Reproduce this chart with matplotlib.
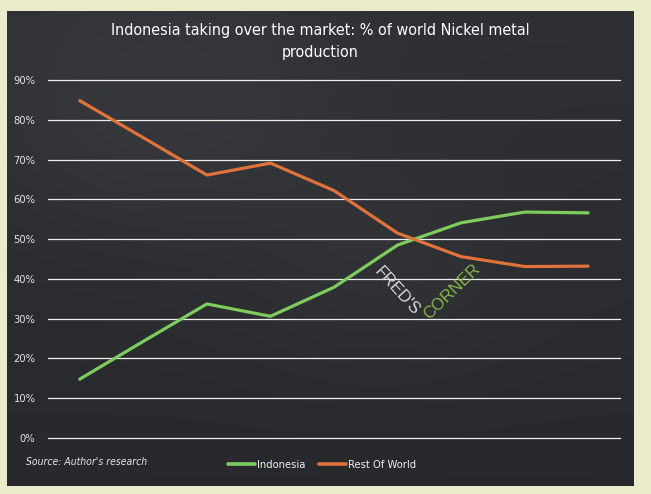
import matplotlib
matplotlib.use("Agg")
import matplotlib.pyplot as plt
import numpy as np

# ---- data ----
periods = list(range(9))
indonesia = [14.8, 24.3, 33.7, 30.6, 37.9, 48.5, 54.1, 56.8, 56.6]
rest_of_world = [84.8, 75.5, 66.1, 69.1, 62.2, 51.5, 45.6, 43.1, 43.2]
y_ticks = [0, 10, 20, 30, 40, 50, 60, 70, 80, 90]
y_tick_labels = [f"{v}%" for v in y_ticks]

W, H = 651, 494
fig = plt.figure(figsize=(W / 100, H / 100), dpi=100, facecolor="#ecebc9")

# chalkboard panel
bg = fig.add_axes([7 / W, 8 / H, 627 / W, 475 / H])
yy, xx = np.mgrid[0:1:200j, 0:1:260j]
shade = 0.19 + 0.035 * np.exp(-((xx - 0.25) ** 2 + (yy - 0.2) ** 2) / 0.08) \
        + 0.02 * np.exp(-((xx - 0.6) ** 2 + (yy - 0.55) ** 2) / 0.05) - 0.03 * yy
img = np.dstack([shade * 0.96, shade * 1.0, shade * 1.08])
bg.imshow(np.clip(img, 0, 1), extent=[0, 1, 0, 1], aspect="auto", origin="upper")
bg.set_axis_off()

cond = dict(family="DejaVu Sans", stretch="condensed")

ax = fig.add_axes([48 / W, 56 / H, 572 / W, 358 / H])
ax.set_facecolor("none")
ax.plot(periods, indonesia, color="#7fcc5e", lw=2.3, label="Indonesia", clip_on=False, zorder=3,
        solid_joinstyle="round", solid_capstyle="round")
ax.plot(periods, rest_of_world, color="#e0733a", lw=2.3, label="Rest Of World", clip_on=False, zorder=3,
        solid_joinstyle="round", solid_capstyle="round")
ax.set_xlim(-0.5, 8.5)
ax.set_ylim(0, 90)
ax.set_yticks(y_ticks)
ax.set_yticklabels(y_tick_labels, **cond)
ax.set_xticks([])
ax.grid(axis="y", color="#eeeeee", lw=0.9)
for gl in ax.get_ygridlines():
    gl.set_clip_on(False)
ax.set_axisbelow(True)
for s in ax.spines.values():
    s.set_visible(False)
ax.tick_params(axis="y", length=0, pad=9, labelsize=8, labelcolor="#e2e2e2")

fig.text(320.5 / W, 1 - 31 / H, "Indonesia taking over the market: % of world Nickel metal",
         ha="center", va="center", color="white", fontsize=11.5, **cond)
fig.text(320.5 / W, 1 - 52 / H, "production", ha="center", va="center", color="white",
         fontsize=11.5, **cond)

fig.text(26 / W, 1 - 462 / H, "Source: Author's research", ha="left", va="center",
         color="#e6e6e6", fontsize=7.5, style="italic", **cond)

# watermark
fig.text(396.5 / W, 1 - 291 / H, "FRED'S", ha="center", va="center", rotation=-48,
         rotation_mode="anchor", color="#d8d8d8", fontsize=12, family="Liberation Sans")
fig.text(452 / W, 1 - 291.5 / H, "CORNER", ha="center", va="center", rotation=44,
         rotation_mode="anchor", color="#86b84c", fontsize=12, family="Liberation Sans")

leg = ax.legend(loc="center", bbox_to_anchor=(322 / W, 1 - 465 / H), bbox_transform=fig.transFigure,
                ncol=2, frameon=False, handlelength=2.4, handletextpad=0.15,
                columnspacing=1.3, labelcolor="#f0f0f0",
                prop=dict(family="DejaVu Sans", stretch="condensed", size=8))
for h in leg.get_lines():
    h.set_linewidth(2.6)

fig.savefig("out.png", dpi=100, facecolor=fig.get_facecolor())
